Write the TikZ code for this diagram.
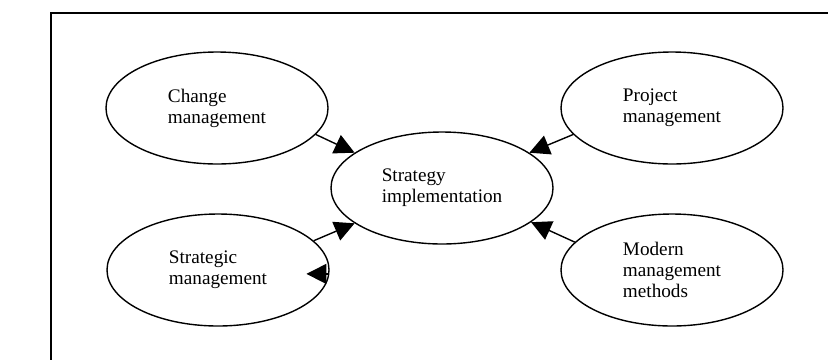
\documentclass[tikz,border=0pt]{standalone}
\usepackage{fontspec}
\setmainfont{Liberation Serif}
\usetikzlibrary{arrows.meta,shapes.geometric}

\begin{document}
\begin{tikzpicture}[x=0.5pt, y=-0.5pt,
    bub/.style={draw, ellipse, line width=0.7pt, minimum width=111pt, minimum height=56pt,
                align=left, inner sep=0pt, font=\fontsize{9.6}{10.5}\selectfont},
    arr/.style={-{Triangle[length=10pt, width=10pt]}, line width=0.7pt}]
      \useasboundingbox (0,0) rectangle (828,360);

      % frame
      \draw[line width=1.1pt] (828,13) -- (51,13) -- (51,360);

      \node[bub](CM) at (217,108){Change\\management};
      \node[bub](SM) at (218,270){Strategic\\management};
      \node[bub](PM) at (672,108){Project\\management};
      \node[bub](MM) at (672,270){Modern\\management\\methods};
      \node[bub](SI) at (442,188){Strategy\\implementation};

      \draw[arr] (CM.-15) -- (SI.158);
      \draw[arr] (SM.17) -- (SI.202);
      \draw[arr] (PM.195) -- (SI.22);
      \draw[arr] (MM.164) -- (SI.-21);

      % stray head on the right of SM
      \draw[arr] (SM.-2) -- ++(-23,0);
    \end{tikzpicture}
\end{document}
